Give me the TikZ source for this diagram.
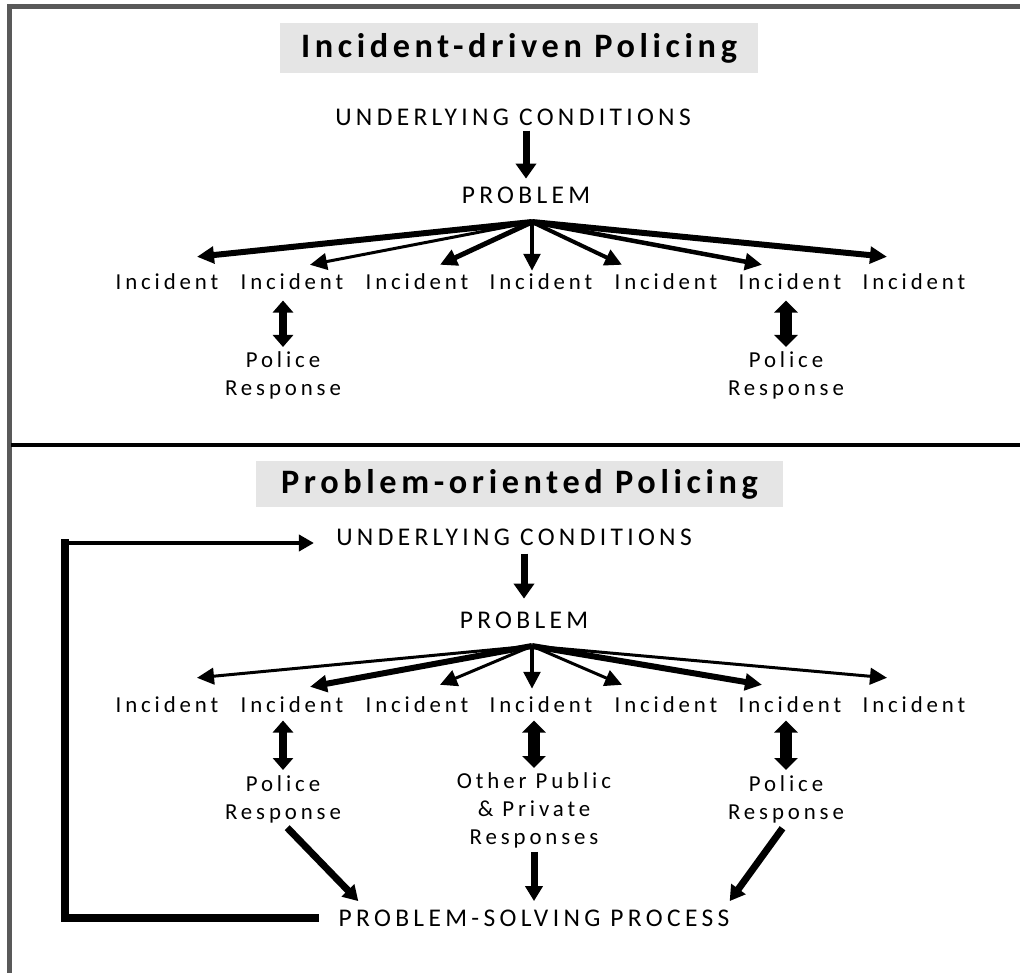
\documentclass[tikz,border=0pt]{standalone}
\usepackage{fontspec}
\setmainfont{Carlito}
\newfontfamily\spaced[LetterSpace=17]{Carlito}
\newfontfamily\titlefont[LetterSpace=13.5]{Carlito}
\usetikzlibrary{arrows.meta}

\begin{document}
\begin{tikzpicture}[x=0.2mm, y=-0.2mm,
        frame/.style={line width=1mm, black!65},
        titlebox/.style={fill=gray!20, inner sep=0, font=\titlefont\bfseries\fontsize{19.5}{23}\selectfont},
        caps/.style={inner sep=0, anchor=base, font=\spaced\fontsize{14.5}{17}\selectfont},
        inc/.style={inner sep=0, anchor=base, font=\spaced\fontsize{13}{16}\selectfont},
        resp/.style={inner sep=0, anchor=north, align=center, font=\spaced\fontsize{13}{16}\selectfont},
        fan/.style={-{Triangle[length=3.4mm, width=3.3mm]}},
        down/.style={-{Triangle[length=3mm, width=4mm]}, line width=1.4mm},
        dbl/.style={{Triangle[length=2.4mm, width=4mm]}-{Triangle[length=2.4mm, width=4mm]}, line width=1.6mm},
        dblthick/.style={{Triangle[length=2.4mm, width=4.6mm]}-{Triangle[length=2.4mm, width=4.6mm]}, line width=2.4mm},
        conv/.style={-{Triangle[length=3mm, width=3.4mm]}, line width=1.4mm}
    ]
    \useasboundingbox (0,0) rectangle (1020,973);
    \draw[frame] (1020,7) -- (9,7) -- (9,973);

    % Top panel - incident-driven
    \node[titlebox, minimum width=95.6mm, minimum height=10mm] (t1) at (519,48) {Incident-driven Policing};
    \node[caps] (u1) at (513,126) {UNDERLYING CONDITIONS};
    \node[caps] (pr1) at (526,204) {PROBLEM};
    \coordinate (f1) at (532,222);
    \node[inc] (i11) at (167,290) {Incident};
    \node[inc] (i12) at (292,290) {Incident};
    \node[inc] (i13) at (417,290) {Incident};
    \node[inc] (i14) at (541,290) {Incident};
    \node[inc] (i15) at (666,290) {Incident};
    \node[inc] (i16) at (790,290) {Incident};
    \node[inc] (i17) at (914,290) {Incident};
    \node[resp] (p11) at (283,351) {Police\\Response};
    \node[resp] (p12) at (786,351) {Police\\Response};

    \draw[down, shorten <=0.8mm, shorten >=1.7mm] (u1.south -| pr1) -- (pr1.north);
    \draw[fan, line width=1.2mm] (f1) -- ([shift={(30,-17)}]i11.north);
    \draw[fan, line width=0.6mm] (f1) -- ([shift={(18,-9)}]i12.north);
    \draw[fan, line width=1mm] (f1) -- ([shift={(23,-9)}]i13.north);
    \draw[fan, line width=0.8mm] (f1) -- ([shift={(-9,-3)}]i14.north);
    \draw[fan, line width=0.8mm] (f1) -- ([shift={(-44,-9)}]i15.north);
    \draw[fan, line width=0.9mm] (f1) -- ([shift={(-28,-9)}]i16.north);
    \draw[fan, line width=1.2mm] (f1) -- ([shift={(-27,-17)}]i17.north);
    \draw[dbl, shorten <=2mm, shorten >=0.8mm] (i12.south -| p11) -- (p11.north);
    \draw[dblthick, shorten <=2mm, shorten >=0.8mm] (i16.south -| p12) -- (p12.north);

    % Bottom panel - problem-oriented
    \draw[line width=0.7mm] (11,445) -- (1020,445);
    \node[titlebox, minimum width=105.4mm, minimum height=9.2mm] (t2) at (519.5,484) {Problem-oriented Policing};
    \node[caps] (u2) at (514,546) {UNDERLYING CONDITIONS};
    \node[caps] (pr2) at (524,628) {PROBLEM};
    \coordinate (f2) at (532,646);
    \node[inc] (i21) at (167,712) {Incident};
    \node[inc] (i22) at (292,712) {Incident};
    \node[inc] (i23) at (417,712) {Incident};
    \node[inc] (i24) at (541,712) {Incident};
    \node[inc] (i25) at (666,712) {Incident};
    \node[inc] (i26) at (790,712) {Incident};
    \node[inc] (i27) at (914,712) {Incident};
    \node[resp] (p21) at (283,775) {Police\\Response};
    \node[resp] (o21) at (534,772) {Other Public\\\& Private\\Responses};
    \node[resp] (p22) at (786,775) {Police\\Response};
    \node[caps] (ps) at (534,926) {PROBLEM-SOLVING PROCESS};
    \coordinate (lp) at (65,543);

    \draw[down, shorten <=1.4mm, shorten >=2.5mm] (u2.south -| pr2) -- (pr2.north);
    \draw[fan, line width=0.6mm] (f2) -- ([shift={(30,-18)}]i21.north);
    \draw[fan, line width=1.2mm] (f2) -- ([shift={(18,-9)}]i22.north);
    \draw[fan, line width=0.6mm] (f2) -- ([shift={(23,-11)}]i23.north);
    \draw[fan, line width=0.8mm] (f2) -- ([shift={(-9,-7)}]i24.north);
    \draw[fan, line width=0.6mm] (f2) -- ([shift={(-44,-11)}]i25.north);
    \draw[fan, line width=1.2mm] (f2) -- ([shift={(-28,-11)}]i26.north);
    \draw[fan, line width=0.6mm] (f2) -- ([shift={(-27,-18)}]i27.north);
    \draw[dbl, shorten <=1.6mm, shorten >=1mm] (i22.south -| p21) -- (p21.north);
    \draw[dblthick, shorten <=1.6mm, shorten >=0.8mm] (i24.south -| o21) -- (o21.north);
    \draw[dblthick, shorten <=1.6mm, shorten >=1mm] (i26.south -| p22) -- (p22.north);
    \draw[conv, shorten <=1.2mm] (p21.south) -- ([shift={(20,-8)}]ps.north west);
    \draw[conv, shorten <=0.7mm, shorten >=1.6mm] (o21.south) -- (ps.north -| o21);
    \draw[conv, shorten <=1.2mm] (p22.south) -- ([shift={(0,-8)}]ps.north east);
    % feedback loop
    \draw[line width=1.5mm, line cap=rect] ([xshift=-4.6mm]ps.west) -| (lp);
    \draw[-{Triangle[length=3mm, width=3.2mm]}, line width=0.8mm, shorten >=4.4mm] (lp) -- (lp -| u2.west);
\end{tikzpicture}
\end{document}
